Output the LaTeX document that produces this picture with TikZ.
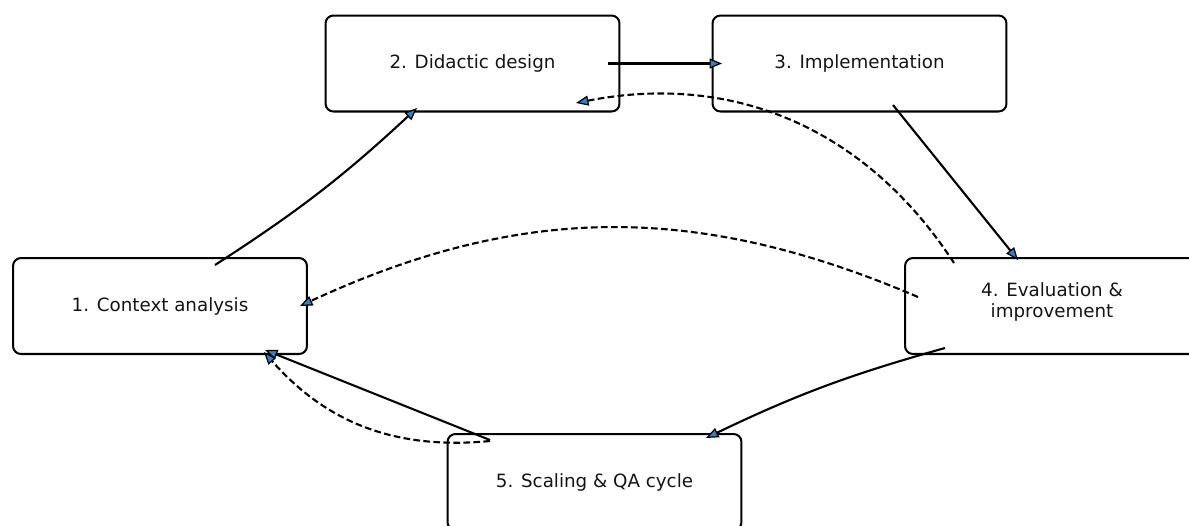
\documentclass[tikz,border=0pt]{standalone}
\usepackage{fontspec}
\setmainfont{DejaVu Sans}
\usetikzlibrary{arrows.meta}
\definecolor{tipblue}{RGB}{52,128,196}
\definecolor{ink}{RGB}{20,20,20}
\begin{document}
\begin{tikzpicture}[x=0.02cm,y=-0.02cm,
  stage/.style={draw=black, line width=1.15pt, rounded corners=4.5pt,
    minimum width=5.88cm, minimum height=1.92cm, align=center,
    font=\fontsize{10.4}{12}\selectfont, text=ink, inner sep=0pt},
  flow/.style={line width=1.2pt,
    -{Triangle[length=0.25cm,width=0.2cm,fill=tipblue,line width=0.7pt]}},
  back/.style={flow, dash pattern=on 3.8pt off 1.9pt}]
\useasboundingbox (0,0) rectangle (1189,525);
\clip (0,0) rectangle (1189,525);

% process stages
\node[stage] (n1) at (160,306)   {1. Context analysis};
\node[stage] (n2) at (472.5,63.5) {2. Didactic design};
\node[stage] (n3) at (859.5,63.5) {3. Implementation};
\node[stage, text depth=7pt] (n4) at (1052,306) {4. Evaluation \&\\improvement};
\node[stage] (n5) at (594.5,482) {5. Scaling \& QA cycle};

% main cycle
\draw[flow] ([shift={(55,-41)}]n1.center) to[bend right=5] ([shift={(-55.5,44.5)}]n2.center);
\draw[flow] ([shift={(135.5,0)}]n2.center) -- ([shift={(-137.5,0)}]n3.center);
\draw[flow] ([shift={(33.5,41.5)}]n3.center) -- ([shift={(-34,-46)}]n4.center);
\draw[flow] ([shift={(-107,42)}]n4.center) to[bend right=5] ([shift={(111.5,-44)}]n5.center);
\draw[flow] ([shift={(-104.5,-42)}]n5.center) -- ([shift={(105,44)}]n1.center);

% feedback loops
\draw[back] ([shift={(-134,-9)}]n4.center) to[bend right=24] ([shift={(140,0)}]n1.center);
\draw[back] ([shift={(-98,-43)}]n4.center) to[bend right=34] ([shift={(103.5,39.5)}]n2.center);
\draw[back] ([shift={(-104.5,-41)}]n5.center) to[bend left=27] ([shift={(104,46)}]n1.center);
\end{tikzpicture}
\end{document}
